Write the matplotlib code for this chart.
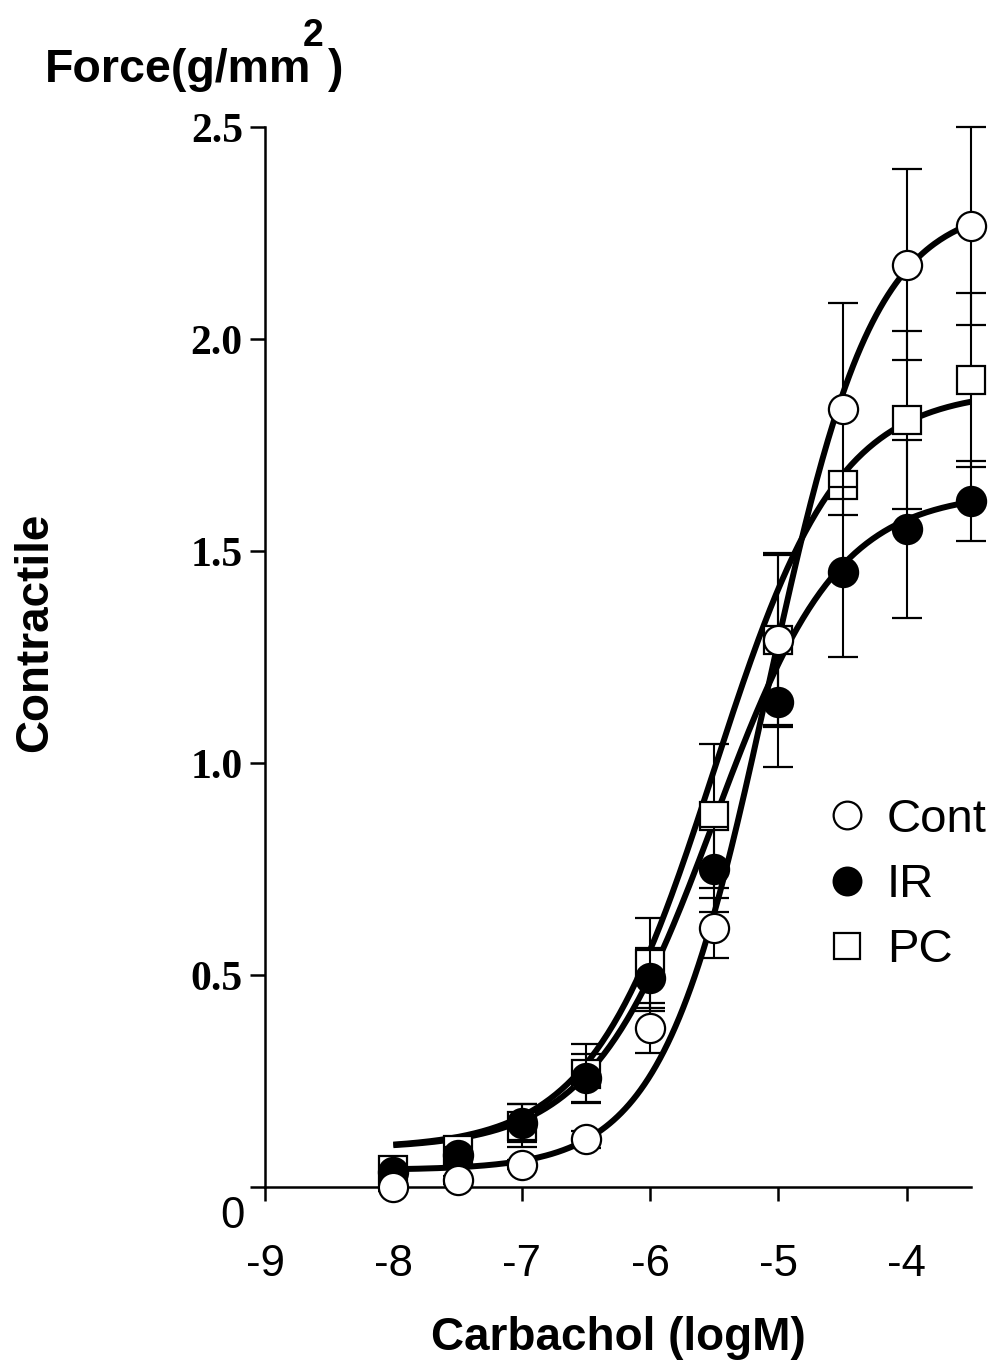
import numpy as np
import matplotlib
matplotlib.use("Agg")
import matplotlib.pyplot as plt

# ---------------- data ----------------
log_conc = [-8, -7.5, -7, -6.5, -6, -5.5, -5, -4.5, -4, -3.5]

cont_mean = [0.0, 0.017, 0.053, 0.113, 0.375, 0.611, 1.29, 1.835, 2.175, 2.267]
cont_sem = [0.01, 0.01, 0.01, 0.02, 0.06, 0.07, 0.20, 0.25, 0.225, 0.233]

ir_mean = [0.035, 0.075, 0.151, 0.257, 0.493, 0.749, 1.144, 1.451, 1.552, 1.618]
ir_sem = [0.01, 0.02, 0.045, 0.057, 0.07, 0.10, 0.153, 0.20, 0.21, 0.095]

pc_mean = [0.04, 0.087, 0.145, 0.267, 0.525, 0.875, 1.29, 1.656, 1.81, 1.903]
pc_sem = [0.01, 0.02, 0.05, 0.07, 0.11, 0.17, 0.205, 0.03, 0.21, 0.205]

# fitted dose-response (Hill) parameters
# order: Cont, IR, PC
fit_bottom = [0.04, 0.09, 0.09]
fit_top = [2.32, 1.64, 1.88]
fit_logec50 = [-5.08, -5.5, -5.5]
fit_hill = [1.05, 0.9, 0.9]

series_names = ["Cont", "IR", "PC"]

x_ticks = [-9, -8, -7, -6, -5, -4]
x_tick_labels = ["-9", "-8", "-7", "-6", "-5", "-4"]
y_ticks = [0, 0.5, 1.0, 1.5, 2.0, 2.5]
y_tick_labels = ["", "0.5", "1.0", "1.5", "2.0", "2.5"]

# ---------------- figure ----------------
W, H = 991, 1368
fig = plt.figure(figsize=(W / 100, H / 100), dpi=100)
ax = fig.add_axes([265 / W, 1 - 1187 / H, 706 / W, 1060 / H])

sans = "Liberation Sans"
serif = "Liberation Serif"

ax.set_xlim(-9, -3.5)
ax.set_ylim(0, 2.5)

for s in ["top", "right"]:
    ax.spines[s].set_visible(False)
for s in ["left", "bottom"]:
    ax.spines[s].set_linewidth(1.8)

# curves
xs = np.linspace(log_conc[0], log_conc[-1], 300)
for i in range(3):
    b, t, ec, h = fit_bottom[i], fit_top[i], fit_logec50[i], fit_hill[i]
    ys = b + (t - b) / (1 + 10 ** ((ec - xs) * h))
    ax.plot(xs, ys, color="black", lw=4.3, zorder=3, solid_capstyle="butt")

# data with error bars (PC bottom, IR, Cont on top)
common = dict(ecolor="black", elinewidth=1.5, capsize=11, capthick=1.5,
              linestyle="none", markeredgecolor="black", markeredgewidth=1.6)
pc_eb = ax.errorbar(log_conc, pc_mean, yerr=pc_sem, marker="s", markersize=20,
                    markerfacecolor="white", zorder=4, **common)
ir_eb = ax.errorbar(log_conc, ir_mean, yerr=ir_sem, marker="o", markersize=21,
                    markerfacecolor="black", zorder=5, **common)
cont_eb = ax.errorbar(log_conc, cont_mean, yerr=cont_sem, marker="o", markersize=21,
                      markerfacecolor="white", zorder=6, **common)
for eb in (pc_eb, ir_eb, cont_eb):
    for art in [eb.lines[0], *eb.lines[1], *eb.lines[2]]:
        art.set_clip_on(False)

# ticks
ax.set_xticks(x_ticks)
ax.set_xticklabels(x_tick_labels, fontsize=31.5, fontfamily=sans)
ax.set_yticks(y_ticks)
ax.set_yticklabels(y_tick_labels, fontsize=30, fontfamily=serif, fontweight="bold")
ax.tick_params(axis="x", direction="out", length=10, width=1.8, pad=31)
ax.tick_params(axis="y", direction="out", length=11, width=1.8, pad=5)

fig.text(232 / W, 1 - 1217 / H, "0", fontsize=31.5, fontfamily=sans,
         ha="center", va="center")

# labels
fig.text(618 / W, 1 - 1338 / H, "Carbachol (logM)", fontsize=33, fontfamily=sans,
         fontweight="bold", ha="center", va="center")
fig.text(35 / W, 1 - 632 / H, "Contractile", fontsize=33, fontfamily=sans,
         fontweight="bold", ha="center", va="center", rotation=90)
fig.text(45 / W, 1 - 82 / H, "Force(g/mm", fontsize=33.5, fontfamily=sans,
         fontweight="bold", ha="left", va="baseline")
fig.text(303 / W, 1 - 46 / H, "2", fontsize=27, fontfamily=sans,
         fontweight="bold", ha="left", va="baseline")
fig.text(328 / W, 1 - 82 / H, ")", fontsize=33.5, fontfamily=sans,
         fontweight="bold", ha="left", va="baseline")

# legend
handles = [cont_eb.lines[0], ir_eb.lines[0], pc_eb.lines[0]]
leg = ax.legend(handles, series_names, loc="upper left",
                bbox_to_anchor=(828 / W, 1 - 798 / H), bbox_transform=fig.transFigure,
                frameon=False, prop={"family": sans, "size": 34},
                handlelength=0.8, handletextpad=0.45, labelspacing=0.45,
                markerscale=0.95, borderaxespad=0, borderpad=0)

fig.savefig("out.png", dpi=100)
